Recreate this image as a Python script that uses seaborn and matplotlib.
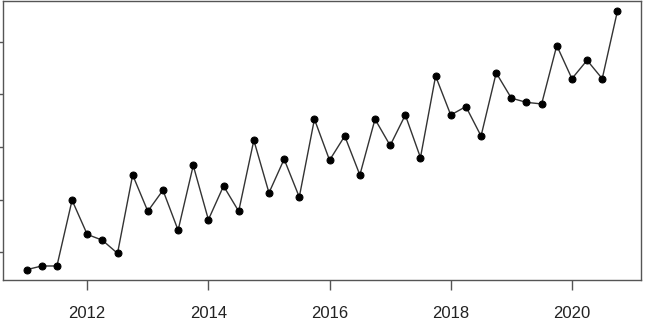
import matplotlib
matplotlib.use("Agg")
import matplotlib.pyplot as plt
import seaborn as sns
import pandas as pd
import numpy as np

years = [2011 + 0.25 * i for i in range(40)]
values = [0.67, 0.74, 0.74, 1.99, 1.34, 1.23, 0.98, 2.47, 1.78, 2.18,
          1.42, 2.65, 1.62, 2.26, 1.78, 3.13, 2.13, 2.77, 2.05, 3.53,
          2.75, 3.21, 2.47, 3.53, 3.03, 3.61, 2.80, 4.35, 3.61, 3.77,
          3.21, 4.41, 3.93, 3.85, 3.82, 4.93, 4.30, 4.65, 4.30, 5.58]
xticks = [2012, 2014, 2016, 2018, 2020]
yticks = [1, 2, 3, 4, 5]

sns.set_style("white")
plt.rcParams['font.family'] = ['Liberation Sans', 'DejaVu Sans']

df = pd.DataFrame({"year": years, "value": values})

fig = plt.figure(figsize=(6.5, 3.26), dpi=100)
ax = fig.add_axes([3/650, 46/326, 638/650, 279/326])
sns.lineplot(data=df, x="year", y="value", ax=ax, color="#333333", lw=1.0,
             marker="o", markersize=5, markerfacecolor="black",
             markeredgecolor="black")

rng = max(years) - min(years)
ax.set_xlim(min(years) - 0.04 * rng, max(years) + 0.04 * rng)
yr = max(values) - min(values)
ax.set_ylim(min(values) - 0.04 * yr, max(values) + 0.04 * yr)
ax.set_xticks(xticks)
ax.set_xticklabels([str(t) for t in xticks])
ax.set_yticks(yticks)
ax.set_xlabel("")
ax.set_ylabel("")
for s in ax.spines.values():
    s.set_visible(True)
    s.set_color("#555555")
    s.set_linewidth(1.0)
ax.tick_params(axis="x", direction="out", length=7.5, width=1, color="#555555",
               pad=11, labelsize=12, labelcolor="#222222", bottom=True)
ax.tick_params(axis="y", direction="out", length=7.5, width=1, color="#555555",
               left=True, labelleft=False)
ax.grid(False)
fig.savefig("out.png", dpi=100)
